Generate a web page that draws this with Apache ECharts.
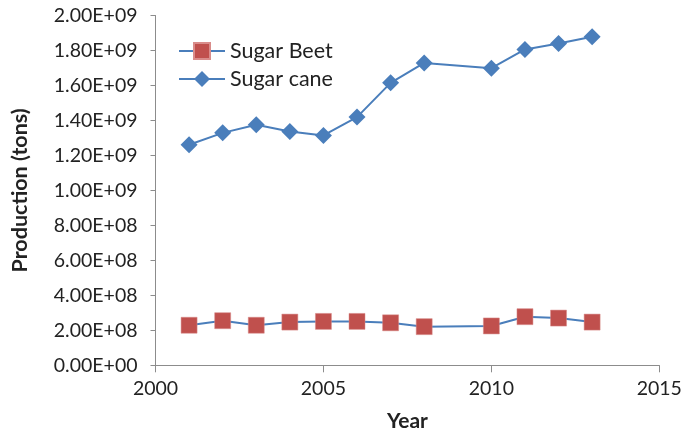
<!DOCTYPE html>
<html>
<head>
<meta charset="utf-8">
<script src="https://cdn.jsdelivr.net/npm/echarts@6/dist/echarts.min.js"></script>
<style>
  html, body { margin: 0; padding: 0; background: #fff; }
  #chart { width: 693px; height: 433px; }
</style>
</head>
<body>
<div id="chart"></div>
<script>
// Annual production, tons
const years = [2001, 2002, 2003, 2004, 2005, 2006, 2007, 2008, 2010, 2011, 2012, 2013];
const sugarBeet = [2.29e8, 2.55e8, 2.29e8, 2.47e8, 2.51e8, 2.51e8, 2.43e8, 2.21e8, 2.25e8, 2.78e8, 2.70e8, 2.47e8];
const sugarCane = [1.261e9, 1.329e9, 1.375e9, 1.337e9, 1.314e9, 1.419e9, 1.615e9, 1.729e9, 1.699e9, 1.806e9, 1.840e9, 1.878e9];
const seriesNames = ['Sugar Beet', 'Sugar cane'];

const FONT = 'Lato, "Liberation Sans", sans-serif';
const AXIS_GRAY = '#8c8c8c';
const LINE_BLUE = '#4a7ebb';
const TEXT = '#222222';

// Excel-style scientific notation, e.g. 1.20E+09
function sci(v) {
  if (v === 0) return '0.00E+00';
  const [m, e] = v.toExponential(2).split('e');
  const n = parseInt(e, 10);
  return m + 'E' + (n < 0 ? '-' : '+') + String(Math.abs(n)).padStart(2, '0');
}

const chart = echarts.init(document.getElementById('chart'), null, { renderer: 'canvas' });

chart.setOption({
  animation: false,
  backgroundColor: '#fff',
  textStyle: { fontFamily: FONT },
  grid: {
    left: 155.5, right: 33.7, top: 15.5, bottom: 67.7,
    containLabel: false,
    outerBoundsMode: 'none'
  },
  legend: {
    orient: 'vertical',
    left: 173,
    top: 34,
    itemWidth: 46,
    itemHeight: 20,
    itemGap: 4,
    textStyle: { fontFamily: FONT, fontSize: 21.5, color: TEXT, lineHeight: 24 },
    data: seriesNames
  },
  xAxis: {
    type: 'value',
    min: 2000,
    max: 2015,
    interval: 5,
    name: 'Year',
    nameLocation: 'middle',
    nameGap: 45,
    nameTextStyle: { fontFamily: FONT, fontSize: 21, fontWeight: 'bold', color: TEXT },
    axisLine: { show: true, lineStyle: { color: AXIS_GRAY, width: 1 } },
    axisTick: { show: true, length: 7, lineStyle: { color: AXIS_GRAY } },
    axisLabel: { fontFamily: FONT, fontSize: 19.5, color: TEXT, margin: 13, formatter: v => String(v) },
    splitLine: { show: false }
  },
  yAxis: {
    type: 'value',
    min: 0,
    max: 2e9,
    interval: 2e8,
    name: 'Production (tons)',
    nameLocation: 'middle',
    nameGap: 124,
    nameRotate: 90,
    nameTextStyle: { fontFamily: FONT, fontSize: 21.5, fontWeight: 'bold', color: TEXT },
    axisLine: { show: true, lineStyle: { color: AXIS_GRAY, width: 1 } },
    axisTick: { show: true, length: 5, lineStyle: { color: AXIS_GRAY } },
    axisLabel: { fontFamily: FONT, fontSize: 19.5, color: TEXT, margin: 18, formatter: sci },
    splitLine: { show: false }
  },
  series: [
    {
      name: seriesNames[0],
      type: 'line',
      data: years.map((y, i) => [y, sugarBeet[i]]),
      symbol: 'rect',
      symbolSize: 16,
      lineStyle: { color: LINE_BLUE, width: 2 },
      itemStyle: { color: '#c0504d', borderColor: '#d98c8a', borderWidth: 0.5 },
      z: 2
    },
    {
      name: seriesNames[1],
      type: 'line',
      data: years.map((y, i) => [y, sugarCane[i]]),
      symbol: 'diamond',
      symbolSize: 17,
      lineStyle: { color: LINE_BLUE, width: 2 },
      itemStyle: { color: '#4a7ebb' },
      z: 3
    }
  ]
});
</script>
</body>
</html>
